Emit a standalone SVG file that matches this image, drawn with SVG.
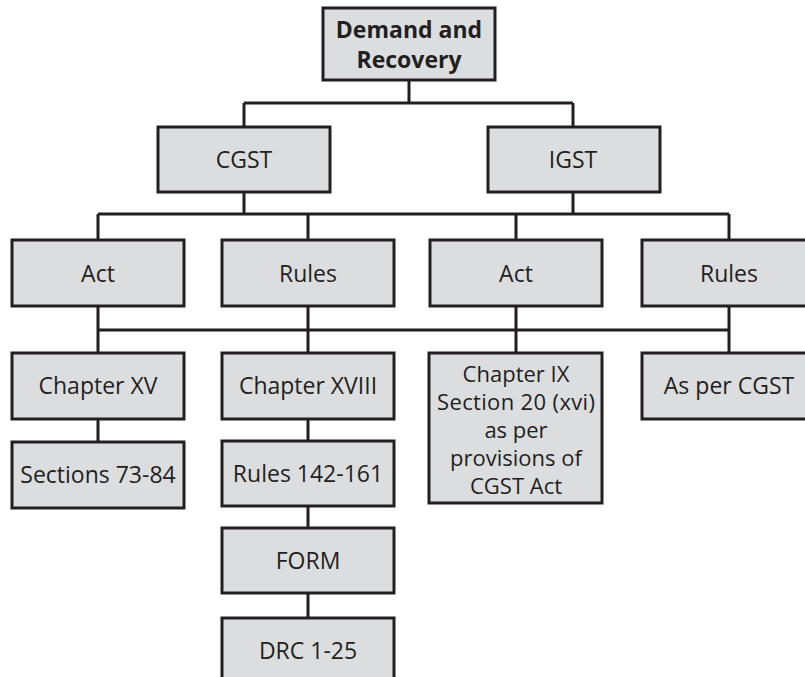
<svg xmlns="http://www.w3.org/2000/svg" width="805" height="677" viewBox="0 0 805 677">
<style>
.box{fill:#dcdddf;stroke:#231f20;stroke-width:3}
.t{font-family:"Open Sans","Liberation Sans",sans-serif;font-size:23px;fill:#231f20;text-anchor:middle}
.s{font-size:22px}
.b{font-weight:bold}
.c{stroke:#231f20;stroke-width:3;fill:none}
</style>
<rect width="805" height="677" fill="#fff"/>
<g id="connectors">
<path class="c" d="M409 80V103M244 103H573M244 103V127M573 103V127"/>
<path class="c" d="M244 192V214M573 192V214M98 214H729M98 214V240M308 214V240M516 214V240M729 214V240"/>
<path class="c" d="M98 306V353M308 306V353M516 306V353M729 306V353"/>
<path class="c" stroke-width="2" d="M98 330H729"/>
<path class="c" d="M98 419V442M308 419V441M308 506V528M308 593V618"/>
</g>
<g id="root"><rect class="box" x="323" y="8" width="172" height="72"/><text class="t b" x="409" y="38">Demand and</text><text class="t b" x="409" y="68">Recovery</text></g>
<g id="cgst"><rect class="box" x="158" y="127" width="172" height="65"/><text class="t" x="244" y="168">CGST</text></g>
<g id="igst"><rect class="box" x="488" y="127" width="172" height="65"/><text class="t" x="573" y="168">IGST</text></g>
<g id="cgst-act"><rect class="box" x="12" y="240" width="172" height="66"/><text class="t" x="98" y="282">Act</text></g>
<g id="cgst-rules"><rect class="box" x="222" y="240" width="172" height="66"/><text class="t" x="308" y="282">Rules</text></g>
<g id="igst-act"><rect class="box" x="430" y="240" width="172" height="66"/><text class="t" x="516" y="282">Act</text></g>
<g id="igst-rules"><rect class="box" x="642" y="240" width="172" height="66"/><text class="t" x="729" y="282">Rules</text></g>
<g id="ch15"><rect class="box" x="12" y="353" width="172" height="66"/><text class="t" x="98" y="394">Chapter XV</text></g>
<g id="sec"><rect class="box" x="12" y="442" width="172" height="66"/><text class="t" x="98" y="483">Sections 73-84</text></g>
<g id="ch18"><rect class="box" x="222" y="353" width="172" height="66"/><text class="t" x="308" y="394">Chapter XVIII</text></g>
<g id="rules142"><rect class="box" x="222" y="441" width="172" height="65"/><text class="t" x="308" y="482">Rules 142-161</text></g>
<g id="form"><rect class="box" x="222" y="528" width="172" height="65"/><text class="t" x="308" y="569">FORM</text></g>
<g id="drc"><rect class="box" x="222" y="618" width="172" height="70"/><text class="t" x="308" y="659">DRC 1-25</text></g>
<g id="ch9"><rect class="box" x="429" y="353" width="173" height="150"/>
<text class="t s" x="516" y="382">Chapter IX</text>
<text class="t s" x="516" y="410" textLength="158" lengthAdjust="spacing">Section 20 (xvi)</text>
<text class="t s" x="516" y="438">as per</text>
<text class="t s" x="516" y="466">provisions of</text>
<text class="t s" x="516" y="494">CGST Act</text></g>
<g id="asper"><rect class="box" x="642" y="353" width="172" height="66"/><text class="t" x="729" y="394">As per CGST</text></g>
</svg>
